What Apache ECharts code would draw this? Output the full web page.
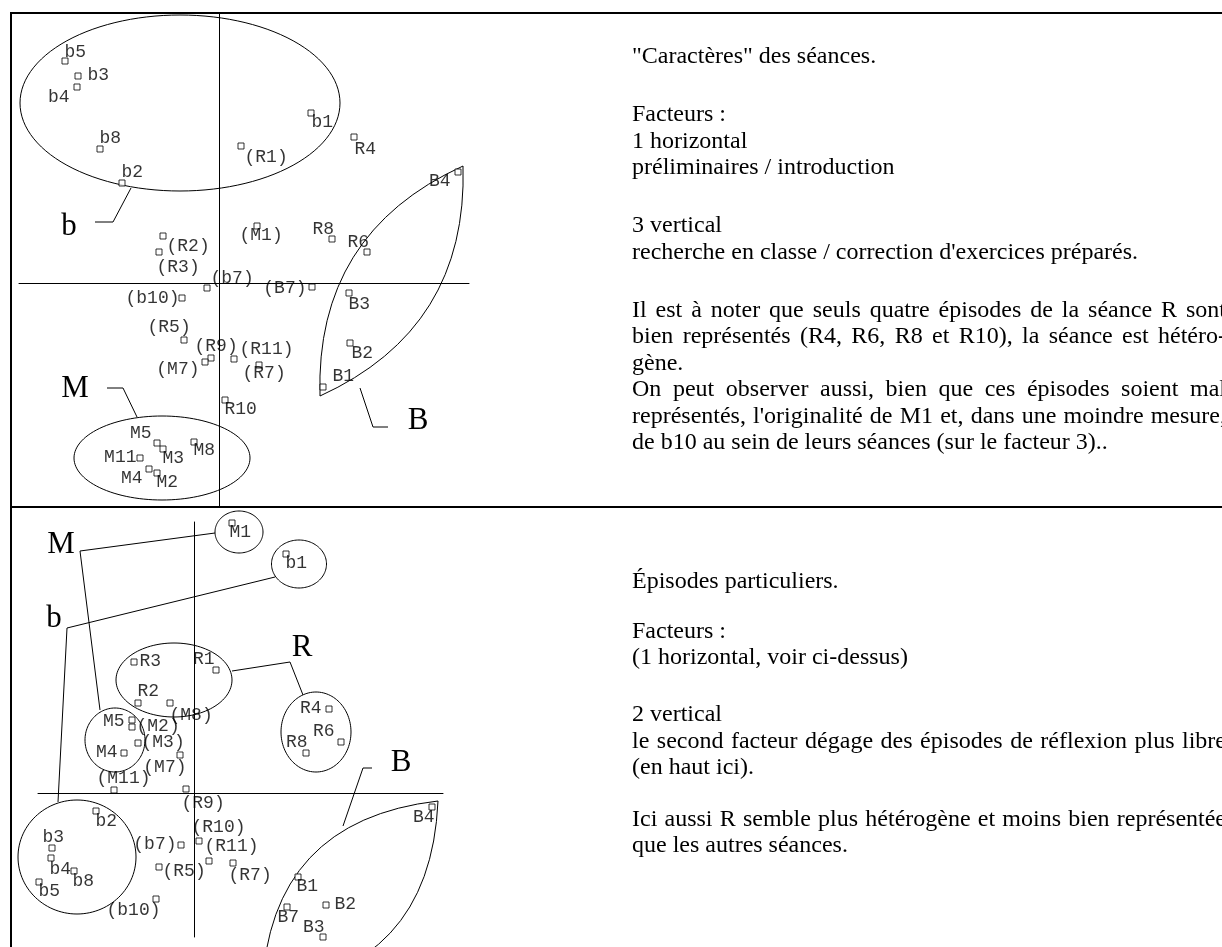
<!DOCTYPE html>
<html>
<head>
<meta charset="utf-8">
<script src="https://cdn.jsdelivr.net/npm/echarts@6/dist/echarts.min.js"></script>
<style>
html,body{margin:0;padding:0;background:#fff;}
#chart{width:1222px;height:947px;}
</style>
</head>
<body>
<div id="chart"></div>
<script>
// plan 1 x 3 : caracteres des seances
var topNames = ['b5','b3','b4','b8','b2','b1','(R1)','R4','B4','(M1)','R8','R6','(R2)','(R3)','(b7)','(B7)','(b10)','B3',
	'(R5)','(R9)','(M7)','(R11)','(R7)','B2','B1','R10','M5','M3','M8','M11','M4','M2'];
var topX = [-1.54,-1.41,-1.42,-1.19,-0.97,0.92,0.22,1.35,2.39,0.38,1.13,1.48,-0.56,-0.60,-0.12,0.93,-0.37,1.30,
	-0.35,-0.08,-0.14,0.15,0.40,1.31,1.04,0.06,-0.62,-0.56,-0.25,-0.79,-0.70,-0.62];
var topY = [2.22,2.07,1.96,1.34,1.00,1.70,1.37,1.46,1.11,0.57,0.44,0.31,0.47,0.31,-0.05,-0.04,-0.15,-0.10,
	-0.57,-0.75,-0.79,-0.76,-0.82,-0.60,-1.04,-1.17,-1.60,-1.66,-1.59,-1.75,-1.86,-1.90];

// plan 1 x 2 : episodes particuliers
var botNames = ['M1','b1','R3','R1','R2','(M8)','M5','(M2)','(M3)','M4','(M7)','(M11)','(R9)','b2','(R10)','(b7)',
	'(R11)','(R5)','(R7)','b3','b4','b8','b5','(b10)','B4','B1','B2','B7','B3','R4','R6','R8'];
var botX = [0.38,0.92,-0.60,0.22,-0.56,-0.24,-0.62,-0.62,-0.56,-0.70,-0.14,-0.80,-0.08,-0.98,0.05,-0.13,
	0.15,-0.35,0.39,-1.42,-1.43,-1.20,-1.55,-0.38,2.38,1.04,1.32,0.93,1.29,1.35,1.47,1.12];
var botY = [2.70,2.39,1.31,1.23,0.90,0.90,0.73,0.66,0.50,0.40,0.38,0.03,0.04,-0.18,-0.48,-0.52,
	-0.68,-0.74,-0.70,-0.55,-0.65,-0.78,-0.89,-1.06,-0.14,-0.84,-1.12,-1.14,-1.44,0.84,0.51,0.40];

// groupes (contours dessines a la main) en unites des facteurs
var topEllipses = [{cx:-0.39,cy:1.80,rx:1.60,ry:0.88},{cx:-0.57,cy:-1.75,rx:0.88,ry:0.42}];
var topLenses = [{x1:2.44,y1:1.17,x2:1.01,y2:-1.13,bulge:0.9}];
var topLeaders = [
	[[-0.88,0.95],[-1.06,0.61],[-1.24,0.61]],
	[[-0.82,-1.34],[-0.96,-1.05],[-1.12,-1.05]],
	[[1.41,-1.05],[1.54,-1.44],[1.69,-1.44]]
];
var topLetters = [{t:'b',x:-1.50,y:0.56},{t:'M',x:-1.44,y:-1.06},{t:'B',x:1.99,y:-1.38}];

var botEllipses = [
	{cx:0.45,cy:2.61,rx:0.24,ry:0.21},
	{cx:1.05,cy:2.29,rx:0.275,ry:0.24},
	{cx:-0.20,cy:1.13,rx:0.58,ry:0.37},
	{cx:1.22,cy:0.61,rx:0.35,ry:0.40},
	{cx:-0.79,cy:0.53,rx:0.30,ry:0.32},
	{cx:-1.17,cy:-0.64,rx:0.59,ry:0.57}
];
var botLenses = [{x1:2.44,y1:-0.08,x2:0.68,y2:-1.97,bulge:1.1}];
var botLeaders = [
	[[0.21,2.60],[-1.14,2.42],[-0.94,0.83]],
	[[0.81,2.16],[-1.27,1.65],[-1.36,-0.09]],
	[[0.38,1.22],[0.96,1.31],[1.09,0.98]],
	[[1.78,0.25],[1.69,0.25],[1.49,-0.33]]
];
var botLetters = [{t:'M',x:-1.33,y:2.48},{t:'b',x:-1.40,y:1.74},{t:'R',x:1.08,y:1.45},{t:'B',x:2.07,y:0.30}];

// placement des etiquettes : [align, dx, dy] depuis le centre du point
var topLabelPos = {
	'b5':['left',0,-8],'b3':['left',10,0],'b4':['right',-7,11],'b8':['left',0,-10],'b2':['left',0,-10],
	'b1':['left',1,10],'(R1)':['left',4,12],'R4':['left',1,13],'B4':['right',-7,10],'(M1)':['left',-17,10],
	'R8':['left',-19,-9],'R6':['left',-19,-9],'(R2)':['left',4,11],'(R3)':['left',-2,16],'(b7)':['left',4,-9],
	'(B7)':['right',-5,2],'(b10)':['right',-2,1],'B3':['left',0,12],'(R5)':['left',-36,-12],'(R9)':['left',-16,-11],
	'(M7)':['right',-5,8],'(R11)':['left',6,-9],'(R7)':['left',-16,9],'B2':['left',2,11],'B1':['left',10,-10],
	'R10':['left',0,10],'M5':['right',-5,-9],'M3':['left',0,10],'M8':['left',0,9],'M11':['right',-3,0],
	'M4':['right',-6,10],'M2':['left',0,10]
};
var botLabelPos = {
	'M1':['left',-2,10],'b1':['left',0,10],'R3':['left',6,0],'R1':['right',-1,-10],'R2':['left',0,-11],
	'(M8)':['left',0,13],'M5':['right',-7,2],'(M2)':['left',5,0],'(M3)':['left',4,0],'M4':['right',-6,0],
	'(M7)':['right',7,13],'(M11)':['left',-17,-11],'(R9)':['left',-4,15],'b2':['left',0,11],'(R10)':['left',-7,-13],
	'(b7)':['right',-4,0],'(R11)':['left',-4,-14],'(R5)':['left',4,5],'(R7)':['left',-4,13],'b3':['left',-9,-10],
	'b4':['left',-1,12],'b8':['left',-1,11],'b5':['left',0,10],'(b10)':['right',5,12],'B4':['right',3,11],
	'B1':['left',-1,10],'B2':['left',9,0],'B7':['left',-9,11],'B3':['right',2,-9],'R4':['right',-7,0],
	'R6':['right',-6,-10],'R8':['right',2,-10]
};

var topText = [
	{t:'"Caractères" des séances.',y:57},
	{t:'Facteurs :',y:115},
	{t:'1 horizontal',y:142},
	{t:'préliminaires / introduction',y:168},
	{t:'3 vertical',y:226},
	{t:'recherche en classe / correction d\'exercices préparés.',y:253},
	{t:'Il est à noter que seuls quatre épisodes de la séance R sont',y:311,j:true},
	{t:'bien représentés (R4, R6, R8 et R10), la séance est hétéro-',y:337,j:true},
	{t:'gène.',y:364},
	{t:'On peut observer aussi, bien que ces épisodes soient mal',y:390,j:true},
	{t:'représentés, l\'originalité de M1 et, dans une moindre mesure,',y:417,j:true},
	{t:'de b10 au sein de leurs séances (sur le facteur 3)..',y:443}
];
var botText = [
	{t:'Épisodes particuliers.',y:582},
	{t:'Facteurs :',y:632},
	{t:'(1 horizontal, voir ci-dessus)',y:658},
	{t:'2 vertical',y:715},
	{t:'le second facteur dégage des épisodes de réflexion plus libre',y:742,j:true},
	{t:'(en haut ici).',y:768},
	{t:'Ici aussi R semble plus hétérogène et moins bien représentée',y:820,j:true},
	{t:'que les autres séances.',y:846}
];

var LABEL_FONT = 'Liberation Mono';
var TEXT_FONT = '24px "Liberation Serif"';

function pointData(names, xs, ys, pos)
{
	var res = [];
	for (var i = 0; i < names.length; i++) {
		var p = pos[names[i]] || ['left', 4, 0];
		res.push({
			name: names[i],
			value: [xs[i], ys[i]],
			label: {position: [3, 3], align: p[0], verticalAlign: 'middle', offset: [p[1], p[2]]}
		});
	}
	return res;
}

function scatterSeries(idx, data)
{
	return {
		type: 'scatter',
		xAxisIndex: idx,
		yAxisIndex: idx,
		symbol: 'rect',
		symbolSize: 6,
		z: 5,
		silent: true,
		itemStyle: {color: '#fff', borderColor: '#000', borderWidth: 1},
		label: {
			show: true,
			formatter: '{b}',
			fontFamily: LABEL_FONT,
			fontSize: 18,
			color: '#000'
		},
		data: data
	};
}

function shapeSeries(idx, ellipses, lenses, leaders, letters)
{
	var items = [];
	ellipses.forEach(function (e) { items.push({kind: 'ellipse', v: e}); });
	lenses.forEach(function (l) { items.push({kind: 'lens', v: l}); });
	leaders.forEach(function (l) { items.push({kind: 'leader', v: l}); });
	letters.forEach(function (l) { items.push({kind: 'letter', v: l}); });
	var stroke = {fill: null, stroke: '#000', lineWidth: 1};
	return {
		type: 'custom',
		xAxisIndex: idx,
		yAxisIndex: idx,
		clip: false,
		silent: true,
		z: 2,
		data: items.map(function (it, i) { return [i]; }),
		renderItem: function (params, api) {
			var it = items[params.dataIndex];
			var v = it.v;
			if (it.kind === 'ellipse') {
				var pts = [];
				for (var k = 0; k < 120; k++) {
					var a = k / 120 * Math.PI * 2;
					pts.push(api.coord([v.cx + v.rx * Math.cos(a), v.cy + v.ry * Math.sin(a)]));
				}
				return {type: 'polygon', shape: {points: pts}, style: {fill: null, stroke: '#000', lineWidth: 1}};
			}
			if (it.kind === 'lens') {
				var dx = v.x2 - v.x1, dy = v.y2 - v.y1;
				var len = Math.sqrt(dx * dx + dy * dy);
				var nx = -dy / len, ny = dx / len;
				var mx = (v.x1 + v.x2) / 2, my = (v.y1 + v.y2) / 2;
				var p1 = api.coord([v.x1, v.y1]), p2 = api.coord([v.x2, v.y2]);
				var c1 = api.coord([mx + nx * v.bulge, my + ny * v.bulge]);
				var c2 = api.coord([mx - nx * v.bulge, my - ny * v.bulge]);
				return {
					type: 'group',
					children: [
						{type: 'bezierCurve', shape: {x1: p1[0], y1: p1[1], x2: p2[0], y2: p2[1], cpx1: c1[0], cpy1: c1[1]}, style: stroke},
						{type: 'bezierCurve', shape: {x1: p1[0], y1: p1[1], x2: p2[0], y2: p2[1], cpx1: c2[0], cpy1: c2[1]}, style: stroke}
					]
				};
			}
			if (it.kind === 'leader') {
				return {type: 'polyline', shape: {points: v.map(function (p) { return api.coord(p); })}, style: stroke};
			}
			var c = api.coord([v.x, v.y]);
			return {
				type: 'text',
				x: c[0],
				y: c[1],
				style: {text: v.t, font: '31px "Liberation Serif"', fill: '#000', align: 'center', verticalAlign: 'middle'}
			};
		}
	};
}

function axisDef(idx, min, max)
{
	return {
		type: 'value',
		gridIndex: idx,
		min: min,
		max: max,
		axisLine: {show: true, onZero: true, lineStyle: {color: '#000', width: 1}},
		axisTick: {show: false},
		axisLabel: {show: false},
		splitLine: {show: false}
	};
}

var measureCtx = document.createElement('canvas').getContext('2d');
measureCtx.font = TEXT_FONT;

function textLines(lines, x0, width)
{
	var out = [];
	lines.forEach(function (line) {
		if (!line.j) {
			out.push({type: 'text', x: x0, y: line.y, style: {text: line.t, font: TEXT_FONT, fill: '#000', verticalAlign: 'middle'}});
			return;
		}
		var words = line.t.split(' ');
		var widths = words.map(function (w) { return measureCtx.measureText(w).width; });
		var total = widths.reduce(function (s, w) { return s + w; }, 0);
		var gap = (width - total) / (words.length - 1);
		var x = x0;
		for (var i = 0; i < words.length; i++) {
			out.push({type: 'text', x: x, y: line.y, style: {text: words[i], font: TEXT_FONT, fill: '#000', verticalAlign: 'middle'}});
			x += widths[i] + gap;
		}
	});
	return out;
}

var chart = echarts.init(document.getElementById('chart'));

var frame = [
	{type: 'line', shape: {x1: 11, y1: 13, x2: 1222, y2: 13}, style: {stroke: '#000', lineWidth: 2}},
	{type: 'line', shape: {x1: 11, y1: 507, x2: 1222, y2: 507}, style: {stroke: '#000', lineWidth: 2}},
	{type: 'line', shape: {x1: 11, y1: 12, x2: 11, y2: 947}, style: {stroke: '#000', lineWidth: 2}}
];

var option = {
	animation: false,
	backgroundColor: '#fff',
	grid: [
		{left: 19, top: 13, width: 450, height: 494},
		{left: 38, top: 522, width: 405, height: 415}
	],
	xAxis: [axisDef(0, -2.0, 2.5), axisDef(1, -1.56, 2.49)],
	yAxis: [axisDef(0, -2.24, 2.70), axisDef(1, -1.44, 2.71)],
	series: [
		scatterSeries(0, pointData(topNames, topX, topY, topLabelPos)),
		scatterSeries(1, pointData(botNames, botX, botY, botLabelPos)),
		shapeSeries(0, topEllipses, topLenses, topLeaders, topLetters),
		shapeSeries(1, botEllipses, botLenses, botLeaders, botLetters)
	],
	graphic: frame.concat(textLines(topText, 632, 594)).concat(textLines(botText, 632, 594))
};

chart.setOption(option);
</script>
</body>
</html>
